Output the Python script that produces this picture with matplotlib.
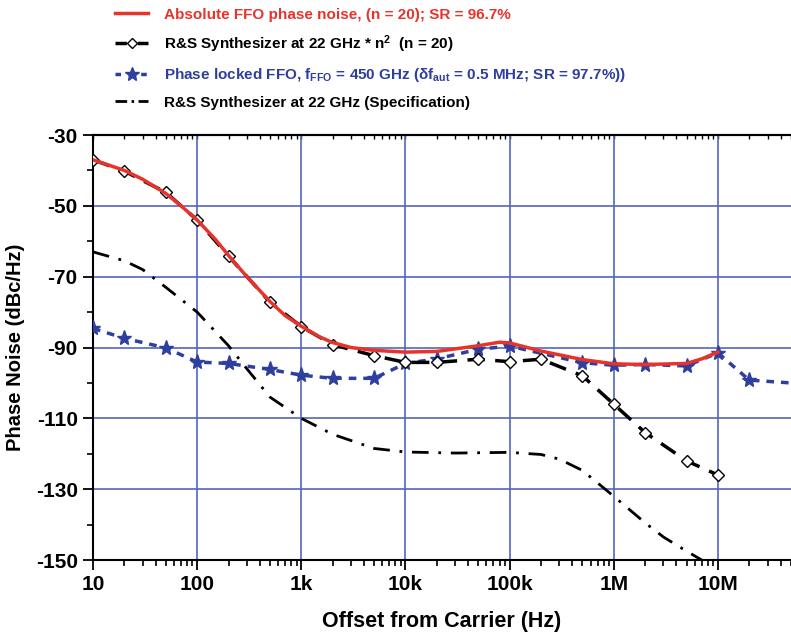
import numpy as np
import matplotlib
matplotlib.use("Agg")
import matplotlib.pyplot as plt
from matplotlib.lines import Line2D
from matplotlib.ticker import FixedLocator, NullFormatter, LogLocator

plt.rcParams['font.family'] = ['Liberation Sans', 'DejaVu Sans']
plt.rcParams['font.weight'] = 'bold'
plt.rcParams['mathtext.default'] = 'regular'
plt.rcParams['axes.unicode_minus'] = False

# absolute FFO phase noise (red line)
abs_f = [10, 20, 30, 50, 70, 100, 150, 200, 300, 500, 700, 1e3, 1.5e3, 2e3, 3e3, 5e3,
         1e4, 2e4, 5e4, 8e4, 1e5, 2e5, 5e5, 1e6, 2e6, 5e6, 7e6, 1e7]
abs_pn = [-37, -40, -42.5, -46.5, -50, -54, -59.5, -64, -70, -77, -81, -84, -87, -88.6, -90, -90.8,
          -91.3, -91.1, -89.5, -88.5, -88.7, -91, -93.4, -94.6, -94.8, -94.5, -93.2, -91.3]

# R&S synthesizer * n^2 (diamonds)
rs_f = [10, 20, 50, 100, 200, 500, 1e3, 2e3, 5e3, 1e4, 2e4, 5e4, 1e5, 2e5, 5e5, 1e6, 2e6, 5e6, 1e7]
rs_pn = [-37, -40.2, -46.2, -54, -64.2, -77.2, -84.1, -89.2, -92.3, -94.2, -94.2, -93.3, -94,
         -93.3, -98, -106, -114, -122, -126]

# phase locked FFO (stars); last point is line end only
ffo_f = [10, 20, 50, 100, 200, 500, 1e3, 2e3, 5e3, 1e4, 2e4, 5e4, 1e5, 5e5, 1e6, 2e6, 5e6, 1e7, 2e7, 5e7]
ffo_pn = [-84.6, -87.4, -90.1, -94.1, -94.5, -96.2, -97.8, -98.7, -98.7, -94.5, -93.2, -90.5, -89.6,
          -94.3, -95, -94.8, -95.2, -91.5, -99.2, -100]

# R&S specification (dash-dot)
spec_f = [10, 20, 30, 50, 100, 200, 300, 500, 1e3, 2e3, 5e3, 1e4, 3e4, 1e5, 2e5, 3e5, 5e5,
          1e6, 2e6, 3e6, 5e6, 7e6]
spec_pn = [-63, -65.5, -68, -73, -80, -89.5, -96, -104, -110, -114.5, -118.5, -119.5, -119.8,
           -119.6, -120.2, -121.5, -124.7, -132, -139.5, -143.5, -147.5, -150]

xticks = [10, 100, 1e3, 1e4, 1e5, 1e6, 1e7]
xlabels = ['10', '100', '1k', '10k', '100k', '1M', '10M']
yticks = [-30, -50, -70, -90, -110, -130, -150]

labels = ['Absolute FFO phase noise, (n = 20); SR = 96.7%',
          'R&S Synthesizer at 22 GHz * n$^2$  (n = 20)',
          r'Phase locked FFO, f$_{FFO}$ = 450 GHz (δf$_{aut}$ = 0.5 MHz; SR = 97.7%))',
          'R&S Synthesizer at 22 GHz (Specification)']

red = '#e8332b'
blue = '#2e3f9e'
gridc = '#5566bb'

fig = plt.figure(figsize=(7.91, 6.33), dpi=100)
ax = fig.add_axes([0.1176, 0.1153, 0.882, 0.6714])

ax.plot(abs_f, abs_pn, color=red, lw=2.5, zorder=5)
ax.plot(rs_f, rs_pn, color='black', lw=2.5, dashes=(5, 3), marker='D', ms=6.5,
        mfc='white', mec='black', mew=1, zorder=4)
ax.plot(ffo_f, ffo_pn, color=blue, lw=2.5, dashes=(2.2, 2), marker='*', ms=11,
        mfc=blue, mec=blue, markevery=list(range(len(ffo_f) - 1)), zorder=3)
ax.plot(spec_f, spec_pn, color='black', lw=2, dashes=(6, 3.5, 1, 3.5), zorder=2)

ax.set_xscale('log')
ax.set_xlim(10, 5e7)
ax.set_ylim(-150, -30)
ax.xaxis.set_major_locator(FixedLocator(xticks))
ax.set_xticklabels(xlabels)
ax.xaxis.set_minor_locator(LogLocator(base=10, subs=np.arange(2, 10), numticks=20))
ax.xaxis.set_minor_formatter(NullFormatter())
ax.set_yticks(yticks)
ax.yaxis.set_minor_locator(FixedLocator(np.arange(-140, -30, 20)))

ax.grid(True, which='major', color=gridc, lw=1.2)
ax.tick_params(which='major', length=7, width=1.3, labelsize=15, pad=4)
ax.tick_params(which='minor', length=4, width=1.2)
ax.spines['right'].set_visible(False)
for s in ['left', 'bottom', 'top']:
    ax.spines[s].set_linewidth(1.5)

# small inward ticks on the top frame
top = ax.secondary_xaxis('top')
top.xaxis.set_major_locator(FixedLocator(xticks))
top.xaxis.set_minor_locator(LogLocator(base=10, subs=np.arange(2, 10), numticks=20))
top.xaxis.set_major_formatter(NullFormatter())
top.xaxis.set_minor_formatter(NullFormatter())
top.tick_params(which='both', direction='in', length=3, width=1)
top.spines['top'].set_linewidth(1.5)

ax.set_xlabel('Offset from Carrier (Hz)', fontsize=15.5, fontweight='bold', labelpad=12)
ax.set_ylabel('Phase Noise (dBc/Hz)', fontsize=14.5, fontweight='bold')
ax.yaxis.set_label_coords(-0.097, 0.5)

# legend keys drawn "— ◇ —" style like the original
handles = [
    Line2D([], [], color=red, lw=2.5),
    Line2D([], [], color='black', lw=2.5, dashes=(3.3, 3.1), marker='D', ms=5,
           mfc='white', mec='black', mew=1),
    Line2D([], [], color=blue, lw=2.5, dashes=(1.6, 2.1), marker='*', ms=10, mfc=blue, mec=blue),
    Line2D([], [], color='black', lw=2, dashes=(4.2, 1.6, 0.9, 1.6)),
]
leg = fig.legend(handles, labels, loc='upper left', bbox_to_anchor=(0.145, 0.988),
                 frameon=False, fontsize=11, handlelength=2.2, handletextpad=1.05,
                 labelspacing=0.75, borderpad=0, borderaxespad=0)
for t, c in zip(leg.get_texts(), [red, 'black', blue, 'black']):
    t.set_color(c)
    t.set_fontweight('bold')

fig.savefig('out.png', dpi=100)
